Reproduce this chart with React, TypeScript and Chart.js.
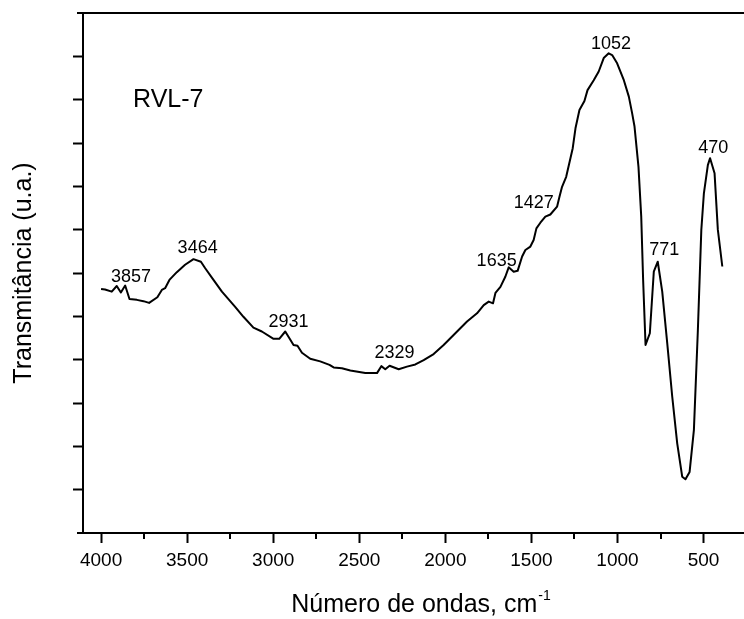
import { useEffect, useRef } from 'react';
import { Chart, registerables } from 'chart.js';

Chart.register(...registerables);

const WAVENUMBERS = [
  4000, 3977, 3938, 3909, 3885, 3860, 3835, 3792, 3754, 3721, 3673, 3647, 3628, 3603, 3560, 3512,
  3463, 3420, 3395, 3347, 3298, 3221, 3173, 3115, 3066, 2998, 2965, 2930, 2905, 2882, 2859, 2833,
  2785, 2727, 2673, 2649, 2601, 2552, 2465, 2397, 2372, 2349, 2324, 2271, 2223, 2174, 2126, 2068,
  2010, 1952, 1874, 1816, 1777, 1748, 1723, 1709, 1680, 1651, 1632, 1603, 1580, 1554, 1535, 1506,
  1487, 1471, 1448, 1419, 1390, 1351, 1337, 1322, 1298, 1260, 1244, 1221, 1192, 1174, 1138, 1109,
  1080, 1051, 1031, 1002, 963, 934, 915, 901, 878, 862, 851, 837, 812, 789, 766, 740,
  711, 682, 653, 624, 605, 581, 556, 533, 513, 498, 475, 462, 436, 417, 391,
];

const TRANSMITTANCE = [
  5.63, 5.62, 5.57, 5.7, 5.55, 5.71, 5.4, 5.38, 5.35, 5.31, 5.44, 5.61, 5.65, 5.84, 6.02, 6.19,
  6.32, 6.26, 6.11, 5.84, 5.57, 5.22, 4.99, 4.74, 4.65, 4.48, 4.48, 4.65, 4.49, 4.34, 4.32, 4.16,
  4.02, 3.96, 3.88, 3.82, 3.8, 3.75, 3.69, 3.69, 3.85, 3.78, 3.86, 3.78, 3.84, 3.89, 3.99, 4.13,
  4.34, 4.57, 4.88, 5.07, 5.26, 5.34, 5.3, 5.54, 5.68, 5.92, 6.13, 6.03, 6.05, 6.38, 6.53, 6.61,
  6.76, 7.03, 7.16, 7.3, 7.35, 7.53, 7.76, 7.99, 8.22, 8.88, 9.34, 9.76, 9.97, 10.22, 10.45, 10.65,
  10.96, 11.07, 11.03, 10.84, 10.45, 10.07, 9.69, 9.38, 8.45, 7.3, 5.84, 4.34, 4.61, 6.03, 6.26, 5.57,
  4.38, 3.15, 2.07, 1.3, 1.24, 1.41, 2.38, 4.68, 6.99, 7.84, 8.49, 8.65, 8.3, 7.0, 6.15,
];

const X_TICKS = [4000, 3750, 3500, 3250, 3000, 2750, 2500, 2250, 2000, 1750, 1500, 1250, 1000, 750, 500];
const Y_TICKS = [0, 1, 2, 3, 4, 5, 6, 7, 8, 9, 10, 11, 12];

const PEAK_LABELS = ['3857', '3464', '2931', '2329', '1635', '1427', '1052', '771', '470'];
const PEAK_LABEL_X = [3826, 3439, 2911, 2295, 1702, 1487, 1038, 728, 444];
const PEAK_LABEL_Y = [5.8, 6.47, 4.75, 4.05, 6.17, 7.49, 11.17, 6.42, 8.78];

const SAMPLE_NAME = 'RVL-7';
const X_TITLE = 'Número de ondas, cm';
const X_TITLE_SUP = '-1';
const Y_TITLE = 'Transmitância (u.a.)';

const FONT = '"Liberation Sans", Arial, Helvetica, sans-serif';

const decorPlugin = {
  id: 'decor',
  afterDraw(chart: any) {
    const { ctx, chartArea, scales } = chart;
    const { left, right, top, bottom } = chartArea;
    const x = scales.x;
    const y = scales.y;
    ctx.save();
    ctx.strokeStyle = '#000';
    ctx.lineWidth = 2;
    ctx.beginPath();
    ctx.moveTo(left - 6, top);
    ctx.lineTo(right, top);
    ctx.moveTo(left - 6, bottom);
    ctx.lineTo(left, bottom);
    X_TICKS.filter((v) => v % 500 !== 0).forEach((v) => {
      const px = Math.round(x.getPixelForValue(v));
      ctx.moveTo(px, bottom);
      ctx.lineTo(px, bottom + 6);
    });
    ctx.stroke();

    ctx.fillStyle = '#000';
    ctx.textBaseline = 'alphabetic';
    ctx.textAlign = 'center';
    ctx.font = `18px ${FONT}`;
    PEAK_LABELS.forEach((t, i) => {
      ctx.fillText(t, x.getPixelForValue(PEAK_LABEL_X[i]), y.getPixelForValue(PEAK_LABEL_Y[i]));
    });

    ctx.textAlign = 'left';
    ctx.font = `25px ${FONT}`;
    ctx.fillText(SAMPLE_NAME, x.getPixelForValue(3814), y.getPixelForValue(9.83));

    // x-axis title with superscript
    ctx.font = `25px ${FONT}`;
    const mainW = ctx.measureText(X_TITLE).width;
    ctx.font = `14px ${FONT}`;
    const supW = ctx.measureText(X_TITLE_SUP).width;
    const cx = (left + right) / 2 + 7;
    const startX = cx - (mainW + supW) / 2;
    ctx.font = `25px ${FONT}`;
    ctx.fillText(X_TITLE, startX, 612);
    ctx.font = `14px ${FONT}`;
    ctx.fillText(X_TITLE_SUP, startX + mainW + 1, 600);
    ctx.restore();
  },
};

export default function App() {
  const ref = useRef<HTMLCanvasElement>(null);

  useEffect(() => {
    const canvas = ref.current;
    if (!canvas) return;
    const chart = new Chart(canvas, {
      type: 'line',
      data: {
        datasets: [
          {
            data: WAVENUMBERS.map((w, i) => ({ x: w, y: TRANSMITTANCE[i] })),
            borderColor: '#000',
            borderWidth: 2,
            pointRadius: 0,
            tension: 0,
            fill: false,
            borderJoinStyle: 'round',
          },
        ],
      },
      options: {
        responsive: false,
        animation: false,
        devicePixelRatio: 1,
        layout: { padding: { top: 13, right: 0, left: 0, bottom: 0 } },
        plugins: { legend: { display: false }, tooltip: { enabled: false } },
        scales: {
          x: {
            type: 'linear',
            reverse: true,
            min: 265,
            max: 4105,
            afterBuildTicks: (scale: any) => {
              scale.ticks = X_TICKS.map((v) => ({ value: v }));
            },
            afterFit: (scale: any) => {
              scale.height = 86;
            },
            ticks: {
              autoSkip: false,
              maxRotation: 0,
              padding: 6,
              color: '#000',
              font: { family: FONT, size: 19 },
              callback: (v: any) => (Number(v) % 500 === 0 ? String(v) : ''),
            },
            grid: {
              drawOnChartArea: false,
              drawTicks: true,
              tickLength: 10,
              tickWidth: 2,
              tickColor: (c: any) => (c.tick && c.tick.value % 500 === 0 ? '#000' : 'rgba(0,0,0,0)'),
            },
            border: { display: true, color: '#000', width: 2 },
          },
          y: {
            type: 'linear',
            min: 0,
            max: 12,
            afterBuildTicks: (scale: any) => {
              scale.ticks = Y_TICKS.map((v) => ({ value: v }));
            },
            afterFit: (scale: any) => {
              scale.width = 83;
            },
            ticks: { display: false },
            grid: {
              drawOnChartArea: false,
              drawTicks: true,
              tickLength: 10,
              tickWidth: 2,
              tickColor: (c: any) =>
                c.tick && (c.tick.value === 0 || c.tick.value === 12) ? 'rgba(0,0,0,0)' : '#000',
            },
            border: { display: true, color: '#000', width: 2 },
            title: {
              display: true,
              text: Y_TITLE,
              color: '#000',
              font: { family: FONT, size: 25 },
              padding: { top: 9, bottom: 0 },
            },
          },
        },
      },
      plugins: [decorPlugin],
    } as any);
    return () => chart.destroy();
  }, []);

  return (
    <div style={{ position: 'fixed', left: 0, top: 0, width: 744, height: 619, background: '#fff' }}>
      <canvas ref={ref} width={744} height={619} style={{ display: 'block', width: 744, height: 619 }} />
    </div>
  );
}
